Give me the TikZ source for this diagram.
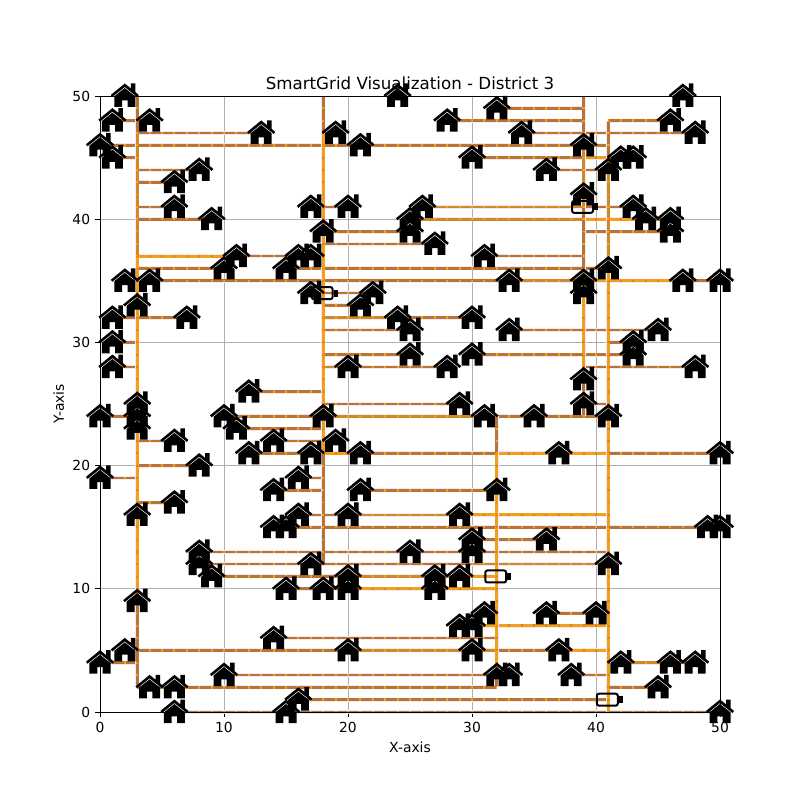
\documentclass[tikz,border=0pt]{standalone}
\usepackage{fontspec}
\setmainfont{DejaVu Sans}
\definecolor{copper}{HTML}{B87338}
\definecolor{midcopper}{HTML}{D0882C}
\definecolor{hotorange}{HTML}{F59E1A}
\definecolor{halolilac}{HTML}{F1E9F1}
\definecolor{gridgray}{HTML}{B0B0B0}
\newcommand{\houselist}{2/50,24/50,47/50,32/49,1/48,4/48,28/48,46/48,13/47,19/47,34/47,48/47,0/46,21/46,39/46,
  1/45,30/45,42/45,43/45,8/44,36/44,41/44,6/43,39/42,6/41,17/41,20/41,26/41,43/41,9/40,25/40,44/40,46/40,
  18/39,25/39,46/39,27/38,11/37,16/37,17/37,31/37,10/36,15/36,41/36,2/35,4/35,33/35,39/35,47/35,50/35,
  17/34,22/34,39/34,3/33,21/33,1/32,7/32,24/32,30/32,25/31,33/31,45/31,1/30,43/30,25/29,30/29,43/29,
  1/28,20/28,28/28,48/28,39/27,12/26,3/25,29/25,39/25,0/24,3/24,10/24,18/24,31/24,35/24,41/24,3/23,11/23,
  6/22,14/22,19/22,12/21,17/21,21/21,37/21,50/21,8/20,0/19,16/19,14/18,21/18,32/18,6/17,3/16,16/16,20/16,29/16,
  14/15,15/15,49/15,50/15,30/14,36/14,8/13,25/13,30/13,8/12,17/12,41/12,9/11,20/11,27/11,29/11,
  15/10,18/10,20/10,27/10,3/9,31/8,36/8,40/8,29/7,30/7,14/6,2/5,20/5,30/5,37/5,0/4,42/4,46/4,48/4,
  10/3,32/3,33/3,38/3,4/2,6/2,45/2,16/1,6/0,15/0,50/0}
\tikzset{
  halo/.style={preaction={draw=halolilac,line width=3pt}},
  hdots/.style={postaction={draw=#1,line width=1.9pt,dash pattern=on 1.4pt off 7.9pt,dash phase=.7pt}},
  vdots/.style={postaction={draw=#1,line width=1.9pt,dash pattern=on 1.4pt off 7.84pt,dash phase=.7pt}},
  cable/.style={draw=copper,line width=2pt,halo},
  midcable/.style={draw=midcopper,line width=2pt,halo},
  hotcable/.style={draw=hotorange,line width=2.3pt,halo},
  battery/.style={draw,line width=1.5pt,rounded corners=1.6pt,minimum width=15.7pt,minimum height=9pt,inner sep=0pt},
  axlabel/.style={font=\fontsize{10.4pt}{12pt}\selectfont,inner sep=0pt},
  framerule/.style={line width=.7pt},
  pics/house/.style={code={
    \fill[x=.75pt,y=.75pt] (0,12.5) -- (6,7.7) -- (6,12.5) -- (10.5,12.5) -- (10.5,4) -- (14,1) -- (12.5,-1) -- (0,9) -- (-12.5,-1) -- (-14,1) -- cycle;
    \fill[x=.75pt,y=.75pt] (0,8) -- (10.5,-.4) -- (10.5,-11) -- (2.7,-11) -- (2.7,-4.3) -- (-2.7,-4.3) -- (-2.7,-11) -- (-10.5,-11) -- (-10.5,-.4) -- cycle;
  }}
}
\begin{document}
\begin{tikzpicture}[x=9.3pt,y=9.24pt]
    \useasboundingbox (-75pt,-66pt) rectangle ++(600pt,600pt);

    % Grid
    \foreach \v in {10,20,30,40}{
      \draw[gridgray,framerule] (\v,0) -- (\v,50);
      \draw[gridgray,framerule] (0,\v) -- (50,\v);
    }
    % Ticks
    \foreach \v in {0,10,20,30,40,50}{
      \draw[framerule] (\v,0) -- ++(0,-3.6pt);
      \draw[framerule] (0,\v) -- ++(-3.6pt,0);
      \node[axlabel,anchor=north] (xtick\v) at ([yshift=-7.2pt]\v,0) {\v};
      \node[axlabel,anchor=east] (ytick\v) at ([xshift=-7.2pt]0,\v) {\v};
    }
    % Text Node
    \node[axlabel] (xlabel) at (25,-2.86) {X-axis};
    \node[axlabel,rotate=90] (ylabel) at (-3.34,25) {Y-axis};
    \node[font=\fontsize{12.5pt}{14pt}\selectfont,inner sep=0pt] (title) at (25,51.05) {SmartGrid Visualization - District 3};

    % House and trunk coordinates
    \foreach \hx/\hy in \houselist { \coordinate (h\hx-\hy) at (\hx,\hy); }
    \coordinate (t3) at (3,50);
    \coordinate (t18) at (18,50);
    \coordinate (t32) at (32,24);
    \coordinate (t39) at (39,50);
    \coordinate (t41) at (41,48);

    % Service lines
    \foreach \a/\b in {2-50/t3,32-49/t39,1-48/t3,4-48/t3,28-48/t39,46-48/t41,13-47/t3,19-47/t18,34-47/h48-47,
      0-46/t41,1-45/t3,30-45/t39,8-44/t3,36-44/t41,6-43/t3,6-41/t3,17-41/t18,20-41/t18,43-41/t39,9-40/t3,
      46-40/h44-40,25-39/t18,46-39/t39,27-38/t18,31-37/t39,11-37/h16-37,17-37/t18,10-36/t3,15-36/h41-36,
      2-35/t3,4-35/h33-35,47-35/h50-35,17-34/t18,22-34/t18,21-33/t18,1-32/h7-32,30-32/h24-32,25-31/t18,33-31/h45-31,
      1-30/t3,43-30/t41,25-29/t18,30-29/h43-29,1-28/t3,28-28/h20-28,48-28/t39,12-26/t18,29-25/t18,39-25/t41,
      0-24/t3,10-24/t18,31-24/h41-24,11-23/t18,6-22/t3,14-22/t18,19-22/t18,12-21/t18,21-21/t32,50-21/t41,
      8-20/t3,0-19/t3,16-19/t18,14-18/t18,21-18/t32,6-17/t3,16-16/h20-16,20-16/t18,15-15/h49-15,36-14/h30-14,
      8-13/h30-13,30-13/t41,8-12/h30-13,9-11/h20-11,15-10/h20-10,36-8/h40-8,14-6/t32,2-5/h20-5,30-5/h37-5,0-4/t3,
      46-4/h48-4,10-3/t32,38-3/t41,4-2/t3,4-2/t32,45-2/t41,16-1/t41,6-0/h50-0}{
      \draw[cable,hdots=hotorange] (h\a) -- (h\a -| \b);
    }
    \foreach \a/\b in {26-41/t39,25-40/t39,33-35/t39,24-32/t18,20-28/t18,18-24/h31-24,20-16/h29-16,
      41-12/h30-13,20-11/h27-11,20-5/h30-5,42-4/h46-4,30-5/t32}{
      \draw[midcable,hdots=hotorange] (h\a) -- (h\a -| \b);
    }
    \foreach \a/\b in {42-45/t39,44-40/t39,11-37/t3,47-35/t39,21-21/t18,37-21/t32,37-21/t41,29-16/t41,
      27-11/t32,20-10/t32,30-7/t41,37-5/t41}{
      \draw[hotcable,hdots=midcopper] (h\a) -- (h\a -| \b);
    }

    % Trunks
    \draw[cable,vdots=hotorange] (t3) -- (t3 |- h13-47);
    \draw[midcable,vdots=hotorange] (t3 |- h13-47) -- (t3 |- h11-37);
    \draw[hotcable,vdots=midcopper] (t3 |- h11-37) -- (t3 |- h3-9);
    \draw[cable,vdots=hotorange] (t3 |- h3-9) -- (t3 |- h4-2);

    \draw[cable,vdots=hotorange] (t18) -- (t18 |- h13-47);
    \draw[hotcable,vdots=midcopper] (t18 |- h13-47) -- (t18 |- h17-21);
    \draw[cable,vdots=hotorange] (t18 |- h17-21) -- (t18 |- h17-12);

    \draw[cable,vdots=hotorange] (t32) -- (t32 |- h37-21);
    \draw[hotcable,vdots=midcopper] (t32 |- h37-21) -- (t32 |- h32-3);
    \draw[cable,vdots=hotorange] (t32 |- h32-3) -- (t32 |- h4-2);

    \draw[cable,vdots=hotorange] (t39) -- (t39 |- h39-46);
    \draw[midcable,vdots=hotorange] (t39 |- h39-46) -- (t39 |- h6-41);
    \draw[cable,vdots=hotorange] (t39 |- h6-41) -- (t39 |- h10-36);
    \draw[hotcable,vdots=midcopper] (t39 |- h10-36) -- (t39 |- h39-27);
    \draw[cable,vdots=hotorange] (t39 |- h39-27) -- (t39 |- h41-24);

    \draw[cable,vdots=hotorange] (t41) -- (t41 |- h30-45);
    \draw[midcable,vdots=hotorange] (t41 |- h30-45) -- (t41 |- h41-36);
    \draw[hotcable,vdots=midcopper] (t41 |- h41-36) -- (t41 |- h6-0);

    % Frame
    \draw[framerule] (0,0) rectangle (50,50);

    % Batteries
    \foreach \n/\bx/\by in {a/39/41,b/18/34,c/32/11,d/41/1}{
      \node[battery,xshift=-.8pt] (bat\n) at (\bx,\by) {};
      \fill ([yshift=-2.6pt]bat\n.east) rectangle ++(3pt,5.2pt);
    }

    % Houses
    \foreach \hx/\hy in \houselist { \pic at (h\hx-\hy) {house}; }
\end{tikzpicture}
\end{document}
